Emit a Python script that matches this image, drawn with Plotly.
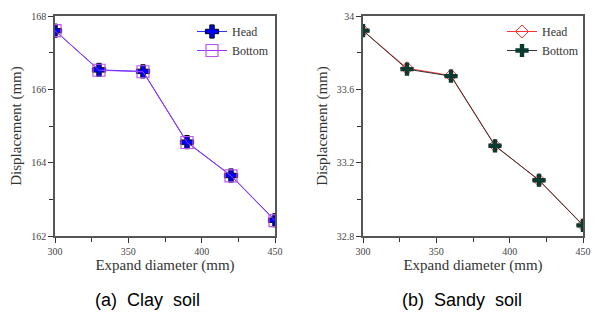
import plotly.graph_objects as go

diam = [300, 330, 360, 390, 420, 450]
clay_head = [167.6, 166.53, 166.49, 164.56, 163.65, 162.43]
clay_bottom = [167.6, 166.52, 166.48, 164.55, 163.64, 162.42]
sand_head = [33.92, 33.715, 33.675, 33.293, 33.105, 32.86]
sand_bottom = [33.92, 33.71, 33.672, 33.292, 33.104, 32.858]

serif = "Liberation Serif, Times New Roman, serif"
OFF = 0  # body margin removed via post_script
W, H = 596 - OFF, 321 - OFF
L, R, T, B = 55 - OFF, 13, 16 - OFF, 85
PW, PH = W - L - R, H - T - B

def px(x):
    return (x - OFF - L) / PW

def py(y):
    return (H - B - (y - OFF)) / PH

fig = go.Figure()

fig.add_trace(go.Scatter(x=diam, y=clay_head, name="Head", mode="lines+markers",
    line=dict(color="#3333ff", width=1),
    marker=dict(symbol="cross", size=11, color="#0000ff", line=dict(color="black", width=1)),
    xaxis="x", yaxis="y", legend="legend"))
fig.add_trace(go.Scatter(x=diam, y=clay_bottom, name="Bottom", mode="lines+markers",
    line=dict(color="#9933ff", width=1),
    marker=dict(symbol="square-open", size=12, color="#bb55ee", line=dict(width=1.2)),
    xaxis="x", yaxis="y", legend="legend"))

fig.add_trace(go.Scatter(x=diam, y=sand_head, name="Head", mode="lines+markers",
    line=dict(color="#ff3333", width=1),
    marker=dict(symbol="diamond-open", size=10, color="#ff3333", line=dict(width=1)),
    xaxis="x2", yaxis="y2", legend="legend2"))
fig.add_trace(go.Scatter(x=diam, y=sand_bottom, name="Bottom", mode="lines+markers",
    line=dict(color="#333333", width=1),
    marker=dict(symbol="cross", size=11, color="#0a3b30", line=dict(width=0)),
    xaxis="x2", yaxis="y2", legend="legend2"))

axcommon = dict(showline=True, linecolor="#555555", linewidth=1.5, mirror=True, automargin=False,
                ticks="outside", ticklen=5, tickcolor="#333333", showgrid=False, zeroline=False,
                ticklabeloverflow="allow",
                tickfont=dict(family=serif, size=10, color="#444444"))
titlefont = dict(family=serif, size=15, color="#333333")
xt = dict(range=[300, 450], tickvals=[300, 350, 400, 450],
          minor=dict(ticks="outside", tickvals=[325, 375, 425], ticklen=4, tickcolor="#333333"),
          title=dict(text="Expand diameter (mm)", font=titlefont, standoff=4))

fig.update_layout(
    width=W, height=H, margin=dict(l=L, r=R, t=T, b=B),
    paper_bgcolor="white", plot_bgcolor="white",
    xaxis=dict(domain=[0, 220 / PW], anchor="y", **xt, **axcommon),
    yaxis=dict(domain=[0, 1], anchor="x", range=[162, 168], tickvals=[162, 164, 166, 168],
               minor=dict(ticks="outside", tickvals=[163, 165, 167], ticklen=4, tickcolor="#333333"),
               title=dict(text="Displacement (mm)", font=titlefont, standoff=6),
               **axcommon),
    xaxis2=dict(domain=[308 / PW, 1], anchor="y2", **xt, **axcommon),
    yaxis2=dict(domain=[0, 1], anchor="x2", range=[32.8, 34], tickvals=[32.8, 33.2, 33.6, 34],
                ticktext=["32.8", "33.2", "33.6", "34"],
                minor=dict(ticks="outside", tickvals=[33.0, 33.4, 33.8], ticklen=4, tickcolor="#333333"),
                title=dict(text="Displacement (mm)", font=titlefont, standoff=6),
                **axcommon),
    legend=dict(x=px(192), y=py(17), xanchor="left", yanchor="top", bgcolor="rgba(0,0,0,0)",
                font=dict(family=serif, size=12, color="#333333"), tracegroupgap=0, itemwidth=30),
    legend2=dict(x=px(502), y=py(17), xanchor="left", yanchor="top", bgcolor="rgba(0,0,0,0)",
                 font=dict(family=serif, size=12, color="#333333"), tracegroupgap=0, itemwidth=30),
    annotations=[
        dict(text="(a)  Clay  soil", x=px(147), y=py(300), xref="paper", yref="paper", showarrow=False,
             xanchor="center", yanchor="middle",
             font=dict(family="Liberation Sans, Arial, sans-serif", size=18, color="black")),
        dict(text="(b)  Sandy  soil", x=px(462), y=py(300), xref="paper", yref="paper", showarrow=False,
             xanchor="center", yanchor="middle",
             font=dict(family="Liberation Sans, Arial, sans-serif", size=18, color="black")),
    ],
)

fig.write_html("out.html", config={"displayModeBar": False},
               post_script="document.body.style.margin='0';document.body.style.overflow='hidden';")
